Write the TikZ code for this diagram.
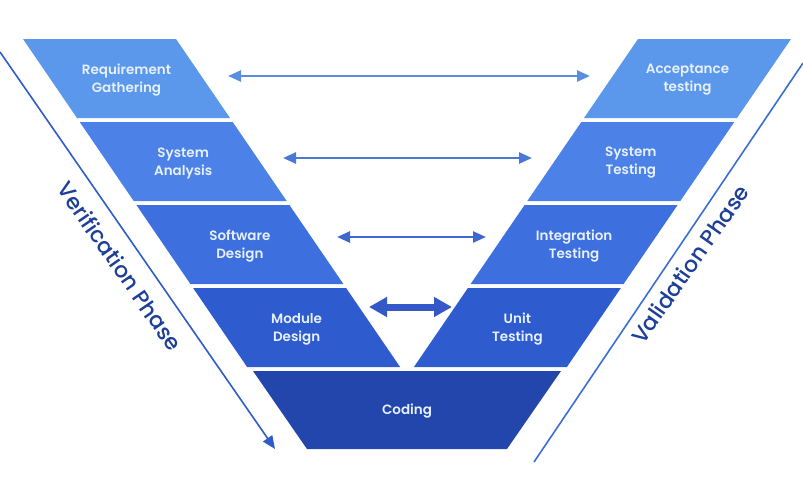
\documentclass[tikz,border=0pt]{standalone}
\usepackage{fontspec}
\setmainfont{Poppins}[UprightFont={* Medium}]
\newfontfamily\labelfont{Poppins}[UprightFont={* SemiBold}]
\usepackage{tikz}
\usetikzlibrary{arrows.meta}
\definecolor{bandone}{HTML}{5B97EB}
\definecolor{bandtwo}{HTML}{4C82E8}
\definecolor{bandthree}{HTML}{3D6FDF}
\definecolor{bandfour}{HTML}{2E5CCF}
\definecolor{codecolor}{HTML}{2246AC}
\definecolor{labelcolor}{HTML}{E6F0FF}
\definecolor{phasecolor}{HTML}{1E3F98}
\definecolor{arrowone}{HTML}{5A8EE2}
\definecolor{arrowtwo}{HTML}{4A78D6}
\definecolor{arrowthree}{HTML}{3E68D0}
\definecolor{arrowfour}{HTML}{3458C8}
\definecolor{lineleft}{HTML}{2F5CC6}
\definecolor{lineright}{HTML}{3A6DD6}

\begin{document}
\begin{tikzpicture}[x=1pt,y=-1pt,
    label/.style={text=labelcolor, align=center, font=\labelfont\fontsize{13.5}{18}\selectfont},
    phase/.style={text=phasecolor, font=\fontsize{22}{24}\selectfont}]
    \useasboundingbox (0,0) rectangle (803,501);
    % left and right bands
    \foreach \k/\col/\lname/\rname/\ltext/\rtext in {
        0/bandone/req/acc/{Requirement\\Gathering}/{Acceptance\\testing},
        1/bandtwo/sysan/systest/{System\\Analysis}/{System\\Testing},
        2/bandthree/swdes/integ/{Software\\Design}/{Integration\\Testing},
        3/bandfour/moddes/unit/{Module\\Design}/{Unit\\Testing}} {
        \fill[\col] ({23+56.7*\k},{39+83*\k}) -- ++(153,0) -- ++(54,79) -- ++(-153,0) -- cycle;
        \fill[\col] ({791-56.7*\k},{39+83*\k}) -- ++(-153,0) -- ++(-54,79) -- ++(153,0) -- cycle;
        \node[label] (\lname) at ({126.5+56.7*\k},{80+83*\k}) {\ltext};
        \node[label] (\rname) at ({687.5-56.7*\k},{80+83*\k}) {\rtext};
    }
    % coding
    \fill[codecolor] (253,371) -- (561,371) -- (507,449) -- (307,449) -- cycle;
    \node[label] (coding) at (407,411) {Coding};
    % arrows between the two sides
    \coordinate (r1l) at (228,76);  \coordinate (r1r) at (590,76);
    \coordinate (r2l) at (283,158); \coordinate (r2r) at (532,158);
    \coordinate (r3l) at (337,237); \coordinate (r3r) at (486,237);
    \coordinate (r4l) at (369,307); \coordinate (r4r) at (452,307);
    \draw[arrowone, line width=2.5pt, {Triangle[length=13pt,width=11pt]}-{Triangle[length=13pt,width=11pt]}] (r1l) -- (r1r);
    \draw[arrowtwo, line width=2.5pt, {Triangle[length=13pt,width=11pt]}-{Triangle[length=13pt,width=11pt]}] (r2l) -- (r2r);
    \draw[arrowthree, line width=2.5pt, {Triangle[length=13pt,width=11pt]}-{Triangle[length=13pt,width=11pt]}] (r3l) -- (r3r);
    \draw[arrowfour, line width=7pt, {Triangle[length=18pt,width=19pt]}-{Triangle[length=18pt,width=19pt]}] (r4l) -- (r4r);
    % phase lines
    \coordinate (vtop) at (0,52);   \coordinate (vbot) at (275,449);
    \coordinate (atop) at (803,63); \coordinate (abot) at (534,462);
    \draw[lineleft, line width=1.6pt, -{Triangle[length=13pt,width=11pt]}] (vtop) -- (vbot);
    \draw[lineright, line width=1.6pt] (atop) -- (abot);
    \node[phase, rotate=-55.3] (verif) at (120,266) {Verification Phase};
    \node[phase, rotate=55] (valid) at (690,264) {Validation Phase};
\end{tikzpicture}
\end{document}
